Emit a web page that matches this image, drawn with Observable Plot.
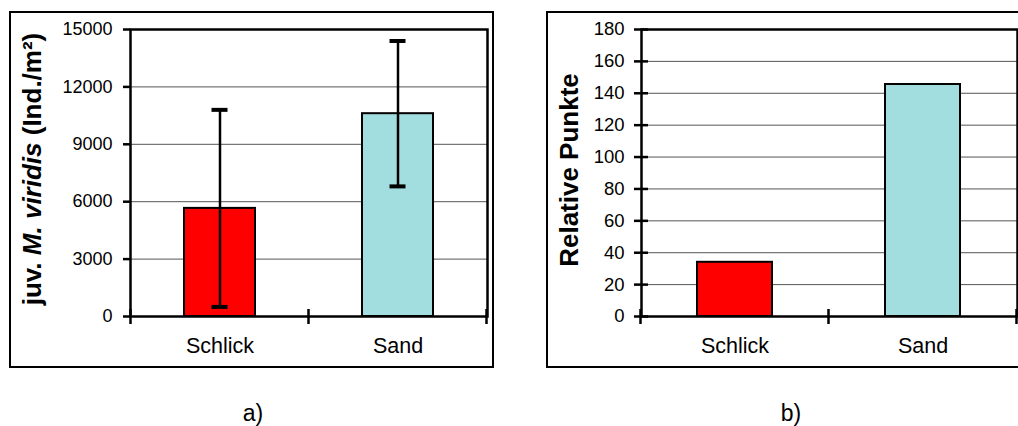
<!DOCTYPE html>
<html><head><meta charset="utf-8">
<script src="https://cdn.jsdelivr.net/npm/d3@7"></script>
<script src="https://cdn.jsdelivr.net/npm/@observablehq/plot@0.6"></script>
<style>
html,body{margin:0;padding:0;background:#fff;}
body{width:1018px;height:426px;overflow:hidden;position:relative;font-family:"Liberation Sans",Arial,sans-serif;color:#000;}
.abs{position:absolute;}
.frame{position:absolute;border:2px solid #000;box-sizing:border-box;}
.ytitle{position:absolute;font-weight:bold;font-size:26px;line-height:26px;white-space:nowrap;transform:translate(-50%,-50%) rotate(-90deg);}
.panel{position:absolute;font-size:23px;line-height:23px;width:100px;text-align:center;}
</style></head><body>
<div class="frame" style="left:9px;top:11px;width:485px;height:357px"></div>
<div class="frame" style="left:546px;top:11px;width:500px;height:357px"></div>
<div id="a" class="abs" style="left:0;top:0"></div>
<div id="b" class="abs" style="left:540px;top:0"></div>
<div class="ytitle" style="left:32px;top:169px">juv. <i>M. viridis</i> (Ind./m²)</div>
<div class="ytitle" style="left:569px;top:170px">Relative Punkte</div>
<div class="panel" style="left:203px;top:402px">a)</div>
<div class="panel" style="left:741px;top:402px">b)</div>
<script>
// ---- data ----
const categories = ["Schlick", "Sand"];
const densityMean = [5650, 10600];
const densitySD = [5150, 3800];
const relativePoints = [34, 145.5];
const barColors = ["#ff0000", "#a2dedf"];
const yTicksA = [0, 3000, 6000, 9000, 12000, 15000];
const yTicksB = [0, 20, 40, 60, 80, 100, 120, 140, 160, 180];

const dataA = categories.map((c, i) => ({cat: c, val: densityMean[i], sd: densitySD[i], color: barColors[i]}));
const dataB = categories.map((c, i) => ({cat: c, val: relativePoints[i], color: barColors[i]}));

function categoryTicks(up, down) {
  return function(...args) {
    const scales = args.find(a => a && typeof a === "object" && !Array.isArray(a) && typeof a.x === "function");
    const dims = args.find(a => a && typeof a === "object" && "marginLeft" in a && "width" in a);
    const x = scales.x;
    const bw = x.bandwidth(), step = x.step();
    const dom = x.domain();
    const xs = dom.map(d => x(d) - (step - bw) / 2);
    xs.push(x(dom[dom.length - 1]) + bw + (step - bw) / 2);
    const y0 = dims.height - dims.marginBottom;
    const g = d3.create("svg:g").attr("stroke", "black").attr("stroke-width", 2.5);
    g.selectAll("line").data(xs).join("line")
      .attr("x1", d => d).attr("x2", d => d)
      .attr("y1", y0 - up).attr("y2", y0 + down);
    return g.node();
  };
}

const fmt = d => String(d);

const common = {
  height: 380,
  marginTop: 29,
  marginBottom: 64,
  style: {fontFamily: "'Liberation Sans', Arial, sans-serif", fontSize: "18px", color: "black", background: "transparent", overflow: "visible"}
};

const plotA = Plot.plot({
  ...common,
  width: 500,
  marginLeft: 130,
  marginRight: 13,
  x: {domain: categories, paddingInner: 0.6, paddingOuter: 0.3, label: null},
  y: {domain: [0, 15000], label: null},
  marks: [
    Plot.gridY({ticks: yTicksA, stroke: "#555", strokeOpacity: 1, strokeWidth: 1}),
    Plot.barY(dataA, {x: "cat", y: "val", fill: "color", stroke: "black", strokeWidth: 2}),
    Plot.ruleX(dataA, {x: "cat", y1: d => d.val - d.sd, y2: d => d.val + d.sd, stroke: "black", strokeWidth: 2.5}),
    Plot.tickY(dataA, {x: "cat", y: d => d.val + d.sd, insetLeft: 27.5, insetRight: 27.5, stroke: "black", strokeWidth: 4}),
    Plot.tickY(dataA, {x: "cat", y: d => d.val - d.sd, insetLeft: 27.5, insetRight: 27.5, stroke: "black", strokeWidth: 4}),
    Plot.frame({stroke: "black", strokeWidth: 2.5}),
    Plot.axisY({ticks: yTicksA, tickFormat: fmt, tickSize: 7, tickPadding: 11, strokeWidth: 2.5, fontSize: 18}),
    Plot.axisX({tickSize: 0, tickPadding: 21, fontSize: 21.5}),
    categoryTicks(7, 8)
  ]
});
document.getElementById("a").appendChild(plotA);

const plotB = Plot.plot({
  ...common,
  width: 478,
  marginLeft: 101,
  marginRight: 1,
  x: {domain: categories, paddingInner: 0.6, paddingOuter: 0.3, label: null},
  y: {domain: [0, 180], label: null},
  marks: [
    Plot.gridY({ticks: yTicksB, stroke: "#555", strokeOpacity: 1, strokeWidth: 1}),
    Plot.barY(dataB, {x: "cat", y: "val", fill: "color", stroke: "black", strokeWidth: 2}),
    Plot.frame({stroke: "black", strokeWidth: 2.5}),
    Plot.axisY({ticks: yTicksB, tickFormat: fmt, tickSize: 7, tickPadding: 10, strokeWidth: 2.5, fontSize: 18.5}),
    Plot.axisY({ticks: yTicksB, tickSize: 7, dx: 7, tickFormat: () => "", strokeWidth: 2.5}),
    Plot.axisX({tickSize: 0, tickPadding: 21, fontSize: 21.5}),
    categoryTicks(7, 8)
  ]
});
document.getElementById("b").appendChild(plotB);
</script>
</body></html>
